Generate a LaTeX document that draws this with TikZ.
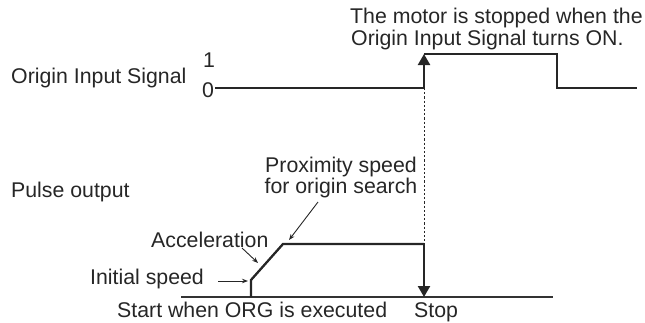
\documentclass[tikz,border=0pt]{standalone}
\usepackage{fontspec}
\setmainfont{Liberation Sans}
\usetikzlibrary{arrows.meta}
\begin{document}
\begin{tikzpicture}[x=1pt,y=-1pt,
  lbl/.style={inner sep=0pt,font=\fontsize{21.3}{22}\selectfont,text=black!85},
  wave/.style={line width=2.3pt,line join=miter,draw=black!85},
  axisline/.style={line width=1.1pt,draw=black!80},
  bigtip/.style={-{Triangle[width=12pt,length=11pt]}},
  pointer/.style={line width=0.9pt,draw=black!85,-{Stealth[width=4.5pt,length=6pt]}},
  dashline/.style={line width=0.8pt,dash pattern=on 2.2pt off 2pt,draw=black!85}]
\useasboundingbox (0,0) rectangle (645,322);
% labels
\node[lbl,anchor=base west] (sig) at (11,83) {Origin Input Signal};
\node[lbl,anchor=base west] (one) at (203,67) {1};
\node[lbl,anchor=base west] (zero) at (202,97) {0};
\node[lbl,anchor=base west] (mot1) at (350,23) {The motor is stopped when the};
\node[lbl,anchor=base west] (mot2) at (351,45) {Origin Input Signal turns ON.};
\node[lbl,anchor=base west] (pulse) at (11,197) {Pulse output};
\node[lbl,anchor=base] (prox1) at (341,172) {Proximity speed};
\node[lbl,anchor=base] (prox2) at (341,193) {for origin search};
\node[lbl,anchor=base west] (acc) at (151,247) {Acceleration};
\node[lbl,anchor=base west] (init) at (90,284) {Initial speed};
\node[lbl,anchor=base west] (start) at (117,317) {Start when ORG is executed};
\node[lbl,anchor=base west] (stop) at (414,317) {Stop};
% signal waveform points
\coordinate (s0) at (215,88);
\coordinate (s1) at (424,88);
\coordinate (s2) at (424,54);
\coordinate (s3) at (557,54);
\coordinate (s4) at (557,88);
\coordinate (s5) at (637,88);
\draw[wave] (s0) -- (s1);
\draw[wave,bigtip,fill=black!85] (s1) -- (s2);
\draw[wave] (s2) -- (s3) -- (s4) -- (s5);
% pulse output
\coordinate (a0) at (181,297);
\coordinate (a1) at (553,297);
\coordinate (p0) at (251,297);
\coordinate (p1) at (251,280);
\coordinate (p2) at (283,244);
\coordinate (p3) at (424,244);
\coordinate (p4) at (424,297);
\draw[axisline] (a0) -- (a1);
\draw[wave] (p0) -- (p1) -- (p2) -- (p3);
\draw[wave,bigtip,fill=black!85] (p3) -- (p4);
% dashed
\draw[dashline] (s1) -- (p3);
% pointers
\coordinate (i0) at (218,281);
\coordinate (i1) at (248,281);
\draw[pointer] (i0) -- (i1);
\coordinate (c0) at (242,248);
\coordinate (c1) at (258,263);
\draw[pointer] (c0) -- (c1);
\coordinate (x0) at (318,202);
\coordinate (x1) at (289,240);
\draw[pointer] (x0) -- (x1);
\end{tikzpicture}
\end{document}
